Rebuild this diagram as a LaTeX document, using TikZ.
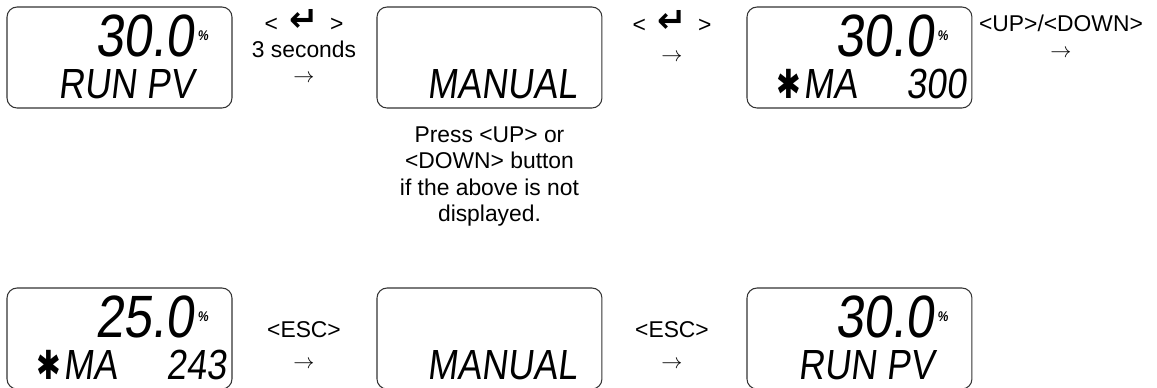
\documentclass[tikz,border=0pt]{standalone}
\usepackage{fontspec}
\usepackage{graphicx}
\setmainfont{Liberation Sans}
\newfontfamily\lcdfont[FakeSlant=0.12, FakeStretch=0.85]{Liberation Sans}
\newfontfamily\symfont{DejaVu Sans}
\usepackage{tikz}
\usetikzlibrary{positioning}

% key and display symbols
\newcommand{\enterkey}{<\hspace{0.5em}{\symfont\bfseries\fontsize{20}{14}\selectfont ↵}\hspace{0.5em}>}
\newcommand{\nextstep}{$\rightarrow$}
\newcommand{\lcdstar}{{\symfont\scalebox{0.7}[0.95]{✱}}\kern1pt}
\newcommand{\lcdpct}{\kern2pt\raisebox{9pt}{\bfseries\fontsize{8}{8}\selectfont\%}}

\begin{document}
\begin{tikzpicture}[x=0.02cm, y=-0.02cm,
    display/.style={draw=black!80, line width=0.6pt, rounded corners=0.2cm, minimum width=4.5cm, minimum height=2.02cm, inner sep=0pt},
    lcdbig/.style={inner sep=0pt, font=\lcdfont\fontsize{34}{34}\selectfont},
    lcdsmall/.style={inner sep=0pt, font=\lcdfont\fontsize{24}{24}\selectfont},
    keylabel/.style={align=center, inner sep=0pt, font=\fontsize{13}{14.5}\selectfont}
]
    \useasboundingbox (0,0) rectangle (1157,387);

    % Top row of displays
    \node[display] (run_top) at (119.5,57.5) {};
    \node[display, right=2.88cm of run_top] (manual_top) {};
    \node[display, right=2.88cm of manual_top] (ma_top) {};

    % Bottom row of displays
    \node[display, below=3.58cm of run_top] (ma_bottom) {};
    \node[display, right=2.88cm of ma_bottom] (manual_bottom) {};
    \node[display, right=2.88cm of manual_bottom] (run_bottom) {};

    % Display contents, top row
    \node[lcdbig, anchor=base east] (run_top_val) at ([shift={(-24,50)}]run_top.north east) {30.0\lcdpct};
    \node[lcdsmall, anchor=base west] (run_top_mode) at ([shift={(52,92)}]run_top.north west) {RUN PV};
    \node[lcdsmall, anchor=base west] (manual_top_mode) at ([shift={(51,92)}]manual_top.north west) {MANUAL};
    \node[lcdbig, anchor=base east] (ma_top_val) at ([shift={(-24,50)}]ma_top.north east) {30.0\lcdpct};
    \node[lcdsmall, anchor=base west] (ma_top_mode) at ([shift={(30,92)}]ma_top.north west) {\lcdstar MA};
    \node[lcdsmall, anchor=base east] (ma_top_out) at ([shift={(-6,92)}]ma_top.north east) {300};

    % Display contents, bottom row
    \node[lcdbig, anchor=base east] (ma_bottom_val) at ([shift={(-24,50)}]ma_bottom.north east) {25.0\lcdpct};
    \node[lcdsmall, anchor=base west] (ma_bottom_mode) at ([shift={(30,92)}]ma_bottom.north west) {\lcdstar MA};
    \node[lcdsmall, anchor=base east] (ma_bottom_out) at ([shift={(-6,92)}]ma_bottom.north east) {243};
    \node[lcdsmall, anchor=base west] (manual_bottom_mode) at ([shift={(51,92)}]manual_bottom.north west) {MANUAL};
    \node[lcdbig, anchor=base east] (run_bottom_val) at ([shift={(-24,50)}]run_bottom.north east) {30.0\lcdpct};
    \node[lcdsmall, anchor=base west] (run_bottom_mode) at ([shift={(52,92)}]run_bottom.north west) {RUN PV};

    % Key labels
    \node[keylabel] (hold_enter) at (304,46) {\enterkey\\3 seconds\\\nextstep};
    \node[keylabel] (press_enter) at (672,36) {\enterkey\\[2pt]\nextstep};
    \node[keylabel] (press_updown) at (1061,36) {<UP>/<DOWN>\\\nextstep};
    \node[keylabel, font=\fontsize{13}{18}\selectfont] (press_esc_a) at (304,345) {<ESC>\\\nextstep};
    \node[keylabel, font=\fontsize{13}{18}\selectfont] (press_esc_b) at (672,345) {<ESC>\\\nextstep};

    % Hint under the manual display
    \node[keylabel, font=\fontsize{13}{15}\selectfont, below=0.36cm of manual_top] (hint) {Press <UP> or\\<DOWN> button\\if the above is not\\displayed.};

\end{tikzpicture}
\end{document}
